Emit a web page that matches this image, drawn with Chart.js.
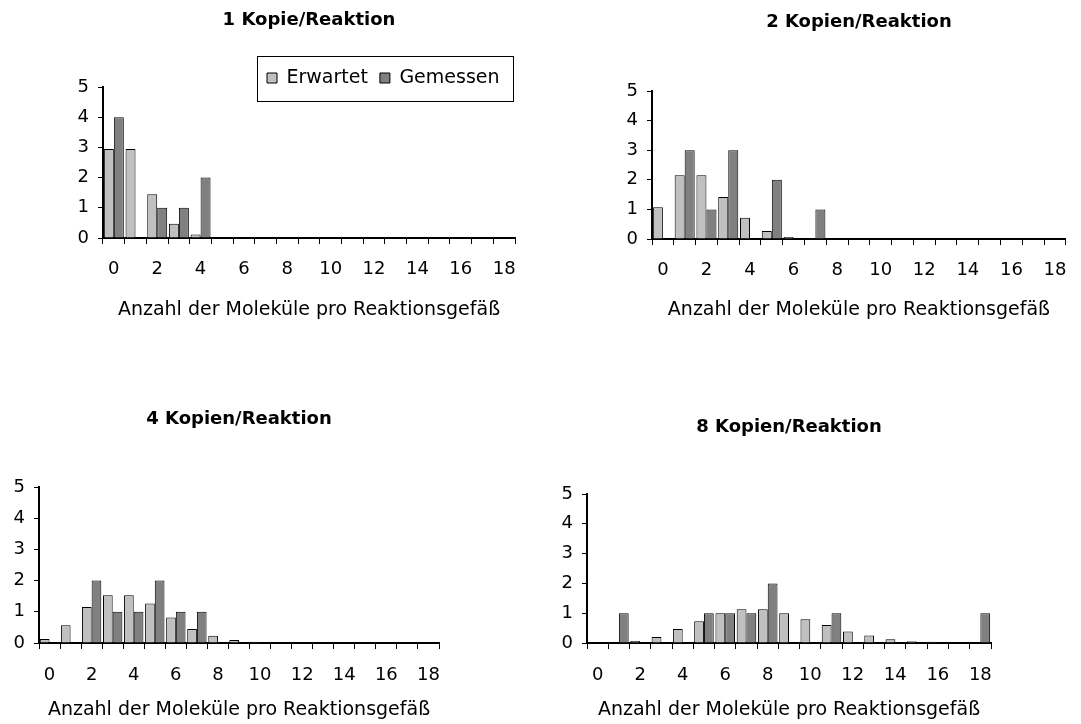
<!DOCTYPE html>
<html>
<head>
<meta charset="utf-8">
<script src="https://cdn.jsdelivr.net/npm/chart.js@4.4.1/dist/chart.umd.min.js"></script>
<style>
  body { margin: 0; background: #fff; width: 1081px; height: 724px; position: relative; overflow: hidden; }
  .box { position: absolute; }
</style>
</head>
<body>
<div class="box" style="left:0;top:0;width:540px;height:330px"><canvas id="chart1"></canvas></div>
<div class="box" style="left:540px;top:0;width:541px;height:330px"><canvas id="chart2"></canvas></div>
<div class="box" style="left:0;top:380px;width:540px;height:344px"><canvas id="chart4"></canvas></div>
<div class="box" style="left:540px;top:380px;width:541px;height:344px"><canvas id="chart8"></canvas></div>
<script>
// Kategorien (Anzahl der Moleküle) und beschriftete Ticks
const categories = ['0','1','2','3','4','5','6','7','8','9','10','11','12','13','14','15','16','17','18'];
const xTickLabels = ['0','2','4','6','8','10','12','14','16','18'];
const seriesNames = ['Erwartet', 'Gemessen'];
const axisTitle = 'Anzahl der Moleküle pro Reaktionsgefäß';

// 1 Kopie/Reaktion
const expected1 = [2.95, 2.95, 1.45, 0.47, 0.12, 0.02, 0, 0, 0, 0, 0, 0, 0, 0, 0, 0, 0, 0, 0];
const measured1 = [4, 0, 1, 1, 2, 0, 0, 0, 0, 0, 0, 0, 0, 0, 0, 0, 0, 0, 0];
// 2 Kopien/Reaktion
const expected2 = [1.07, 2.15, 2.15, 1.42, 0.72, 0.27, 0.07, 0.02, 0, 0, 0, 0, 0, 0, 0, 0, 0, 0, 0];
const measured2 = [0, 3, 1, 3, 0, 2, 0, 1, 0, 0, 0, 0, 0, 0, 0, 0, 0, 0, 0];
// 4 Kopien/Reaktion
const expected4 = [0.13, 0.57, 1.15, 1.53, 1.53, 1.27, 0.82, 0.45, 0.23, 0.1, 0.04, 0.02, 0, 0, 0, 0, 0, 0, 0];
const measured4 = [0, 0, 2, 1, 1, 2, 1, 1, 0, 0, 0, 0, 0, 0, 0, 0, 0, 0, 0];
// 8 Kopien/Reaktion
const expected8 = [0, 0.02, 0.07, 0.2, 0.47, 0.73, 1.0, 1.13, 1.13, 1.0, 0.8, 0.6, 0.39, 0.25, 0.13, 0.06, 0.04, 0.01, 0.01];
const measured8 = [0, 1, 0, 0, 0, 1, 1, 1, 2, 0, 0, 1, 0, 0, 0, 0, 0, 0, 1];

Chart.defaults.font.family = "'DejaVu Sans', sans-serif";
Chart.defaults.color = '#000';

// Titel über der Zeichenfläche zentrieren, Legende verschieben und einrahmen
const blockPlacement = {
  id: 'blockPlacement',
  afterLayout(chart, args, opts) {
    const t = chart.titleBlock;
    if (t) {
      t.left = chart.chartArea.left;
      t.right = chart.chartArea.right;
    }
    const lg = chart.legend;
    if (lg && opts.at) {
      const w = lg.width, h = lg.height;
      lg.left = opts.at[0];
      lg.top = opts.at[1];
      lg.right = lg.left + w;
      lg.bottom = lg.top + h;
    }
  },
  afterDraw(chart, args, opts) {
    if (!opts.frame) return;
    const ctx = chart.ctx;
    const [x, y, w, h] = opts.frame;
    ctx.save();
    ctx.strokeStyle = '#000';
    ctx.lineWidth = 1;
    ctx.strokeRect(x + 0.5, y + 0.5, w, h);
    ctx.restore();
  }
};

function makeChart(id, title, expected, measured, g) {
  const ctx = document.getElementById(id).getContext('2d');
  return new Chart(ctx, {
    type: 'bar',
    data: {
      labels: categories,
      datasets: [
        { label: seriesNames[0], data: expected, backgroundColor: '#c0c0c0', borderColor: '#000', borderWidth: 1 },
        { label: seriesNames[1], data: measured, backgroundColor: '#808080', borderColor: '#000', borderWidth: 1 }
      ]
    },
    options: {
      responsive: true,
      maintainAspectRatio: false,
      animation: false,
      events: [],
      categoryPercentage: 0.92,
      barPercentage: 1.0,
      layout: { padding: { left: g.left, right: g.right, top: 0, bottom: g.bottom } },
      plugins: {
        title: {
          display: true,
          text: title,
          color: '#000',
          font: { size: 18, weight: 'bold' },
          padding: { top: g.titleTop, bottom: g.titleBottom }
        },
        legend: {
          display: !!g.legend,
          position: 'top',
          align: 'start',
          labels: { boxWidth: 10, boxHeight: 10, padding: 12, color: '#000', font: { size: 19 } }
        },
        tooltip: { enabled: false },
        blockPlacement: g.legend || {}
      },
      scales: {
        x: {
          grid: { display: true, drawOnChartArea: false, drawTicks: true, tickLength: 6, color: '#000', lineWidth: 1, offset: true },
          border: { display: true, color: '#000', width: 2 },
          ticks: {
            autoSkip: false,
            maxRotation: 0,
            padding: g.tickPad,
            color: '#000',
            font: { size: 18 },
            callback: (v, i) => xTickLabels.includes(categories[i]) ? categories[i] : ''
          },
          title: { display: true, text: axisTitle, color: '#000', font: { size: 19 }, padding: 0 },
          afterFit: s => { s.height = g.xHeight; }
        },
        y: {
          min: 0,
          max: 5,
          ticks: { stepSize: 1, padding: 9, color: '#000', font: { size: 18 } },
          grid: { drawOnChartArea: false, tickLength: 5, color: '#000', lineWidth: 1 },
          border: { display: true, color: '#000', width: 2 },
          afterFit: s => { s.width = g.yWidth; }
        }
      }
    },
    plugins: [blockPlacement]
  });
}

makeChart('chart1', '1 Kopie/Reaktion', expected1, measured1, {
  left: 63, yWidth: 40, right: 25, bottom: 8.6, titleTop: 10, titleBottom: 14.4, xHeight: 83.4, tickPad: 15,
  legend: { at: [255, 56.5], frame: [257, 56, 256, 45] }
});
makeChart('chart2', '2 Kopien/Reaktion', expected2, measured2, {
  left: 72, yWidth: 40, right: 13, bottom: 8.6, titleTop: 11.2, titleBottom: 58.2, xHeight: 82.4, tickPad: 14.2
});
makeChart('chart4', '4 Kopien/Reaktion', expected4, measured4, {
  left: 0, yWidth: 39, right: 101, bottom: 2.6, titleTop: 28.7, titleBottom: 56.7, xHeight: 78.4, tickPad: 15.2
});
makeChart('chart8', '8 Kopien/Reaktion', expected8, measured8, {
  left: 7, yWidth: 40, right: 90, bottom: 2.6, titleTop: 36.2, titleBottom: 56.2, xHeight: 78.4, tickPad: 15.2
});
</script>
</body>
</html>
